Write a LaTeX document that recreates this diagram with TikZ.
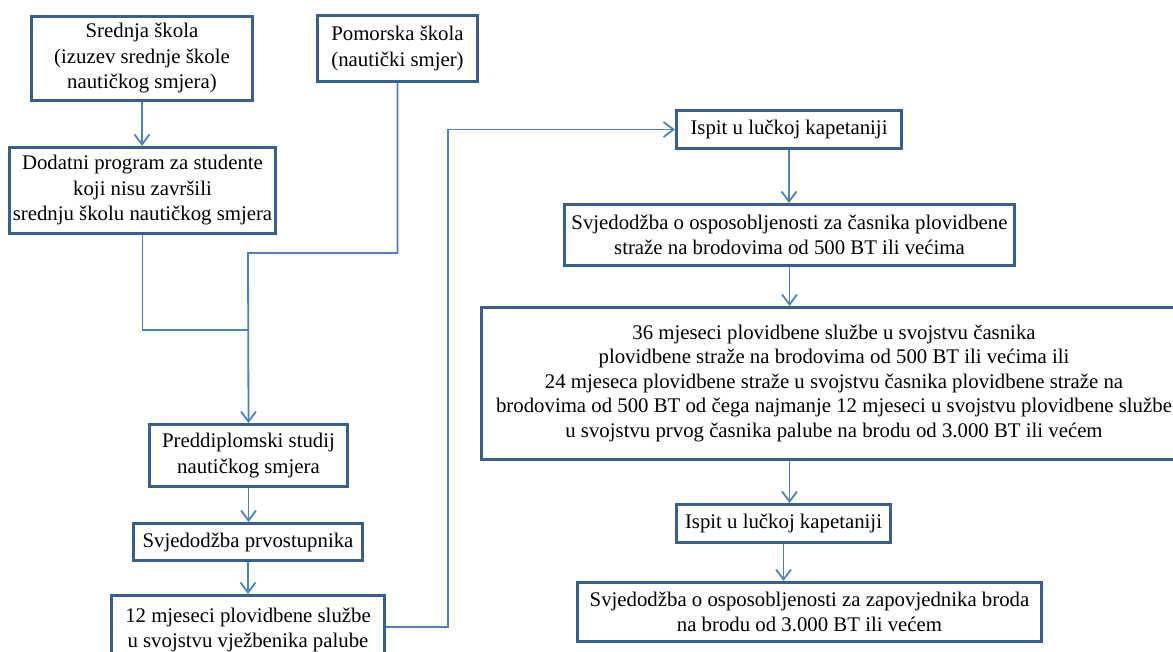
\documentclass[tikz,border=0pt]{standalone}
\usepackage{fontspec}
\setmainfont{Liberation Serif}
\usetikzlibrary{arrows.meta}
\definecolor{boxc}{HTML}{3A5F8C}
\definecolor{connc}{HTML}{4F81BD}
\begin{document}
\begin{tikzpicture}[x=1pt,y=-1pt,
  box/.style={draw=boxc, line width=3pt, fill=white, inner sep=0pt, align=center,
    font=\fontsize{20.8}{25.5}\selectfont},
  conn/.style={draw=connc, line width=1.8pt, -{Straight Barb[length=10pt,width=15pt]}},
  line/.style={draw=connc, line width=1.8pt}]
\useasboundingbox (0,0) rectangle (1173,652);
\clip (0,0) rectangle (1173,652);
\fill[white] (0,0) rectangle (1173,652);
% boxes
\node[box, minimum width=221pt, minimum height=84pt] (sred) at (142,58.5)
  {Srednja škola\\(izuzev srednje škole\\nautičkog smjera)};
\node[box, minimum width=266pt, minimum height=86pt] (dod) at (142.5,190.5)
  {Dodatni program za studente\\koji nisu završili\\srednju školu nautičkog smjera};
\node[box, minimum width=160pt, minimum height=66pt] (pom) at (397.5,48.5)
  {Pomorska škola\\(nautički smjer)};
\node[box, minimum width=225pt, minimum height=38pt] (isp1) at (789,129.5)
  {Ispit u lučkoj kapetaniji};
\node[box, minimum width=450pt, minimum height=61pt] (svc) at (789.5,235)
  {Svjedodžba o osposobljenosti za časnika plovidbene\\straže na brodovima od 500 BT ili većima};
\node[box, minimum width=705pt, minimum height=152pt, font=\fontsize{20.8}{24.5}\selectfont] (big) at (834,383.5)
  {36 mjeseci plovidbene službe u svojstvu časnika\\
   plovidbene straže na brodovima od 500 BT ili većima ili\\
   24 mjeseca plovidbene straže u svojstvu časnika plovidbene straže na\\
   brodovima od 500 BT od čega najmanje 12 mjeseci u svojstvu plovidbene službe\\
   u svojstvu prvog časnika palube na brodu od 3.000 BT ili većem};
\node[box, minimum width=214pt, minimum height=38pt] (isp2) at (783.5,523.5)
  {Ispit u lučkoj kapetaniji};
\node[box, minimum width=464pt, minimum height=59pt] (zap) at (809.5,612)
  {Svjedodžba o osposobljenosti za zapovjednika broda\\na brodu od 3.000 BT ili većem};
\node[box, minimum width=198pt, minimum height=62pt] (pred) at (248.5,455.5)
  {Preddiplomski studij\\nautičkog smjera};
\node[box, minimum width=229pt, minimum height=37pt] (prv) at (248,542)
  {Svjedodžba prvostupnika};
\node[box, minimum width=273pt, minimum height=69pt] (m12) at (248,630)
  {12 mjeseci plovidbene službe\\u svojstvu vježbenika palube};
% junctions
\coordinate (j) at (248,330);
\coordinate (k) at (248,253);
\coordinate (c) at (448,129.5);
% connectors
\draw[conn] (sred.south) -- (sred.south |- dod.north);
\draw[line] (dod.south) |- (j);
\draw[conn] (pom.south) |- (k) -- (pred.north);
\draw[conn] (pred.south) -- (pred.south |- prv.north);
\draw[conn] (prv.south) -- (prv.south |- m12.north);
\draw[conn] (m12.east |- 0,627) -| (c) -- (isp1.west);
\draw[conn] (isp1.south) -- (isp1.south |- svc.north);
\draw[conn] (svc.south) -- (svc.south |- big.north);
\draw[conn] (svc.south |- big.south) -- (svc.south |- isp2.north);
\draw[conn] (isp2.south) -- (isp2.south |- zap.north);
\end{tikzpicture}
\end{document}
